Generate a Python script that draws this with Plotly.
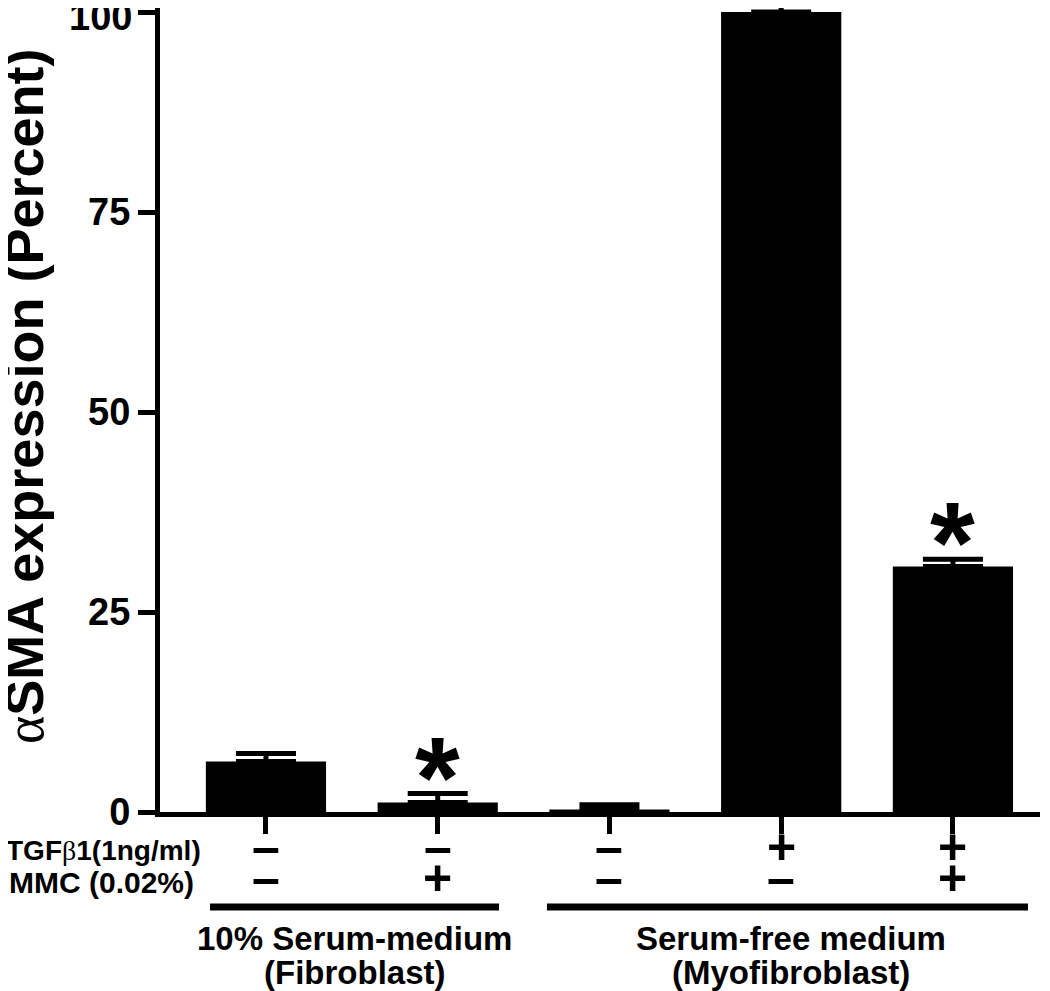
import plotly.graph_objects as go

categories = [0, 1, 2, 3, 4]
values = [6.3, 1.2, 0.3, 100.0, 30.7]
errors = [1.0, 1.1, 0.6, 0.8, 0.9]
tgf_signs = ["–", "–", "–", "+", "+"]
mmc_signs = ["–", "+", "–", "–", "+"]
significant = [False, True, False, False, True]
y_ticks = [0, 25, 50, 75, 100]
y_ticktext = ["0", "25", "50", "75", ""]
top_tick_label = "100"
group_line1 = ["10% Serum-medium", "Serum-free medium"]
group_line2 = ["(Fibroblast)", "(Myofibroblast)"]
group_spans = [(-0.326, 1.357), (1.636, 4.437)]
group_centers = [0.518, 3.057]
y_title = "<b><span style=\"font-family:'Liberation Serif';font-weight:normal\">α</span>SMA expression (Percent)</b>"
tgf_label = "<b>TGF<span style=\"font-family:'Liberation Serif';font-weight:normal\">β</span>1(1ng/ml)</b>"
mmc_label = "<b>MMC (0.02%)</b>"

FONT = "Liberation Sans, Arial, sans-serif"
PLOT_H = 804.0


def py(p):
    # page pixel -> paper y (plot bottom at page y 812)
    return (812 - p) / PLOT_H


fig = go.Figure()
fig.add_trace(go.Bar(
    x=categories, y=values, width=0.70,
    marker=dict(color="black", line=dict(width=0)),
    error_y=dict(type="data", array=errors, arrayminus=[0]*5, symmetric=False,
                 color="black", thickness=5, width=30),
    cliponaxis=False,
))

annotations = []
for c, t, m in zip(categories, tgf_signs, mmc_signs):
    annotations.append(dict(x=c, y=py(850), xref="x", yref="paper", text=f"<b>{t}</b>", showarrow=False,
                            yshift=-27, font=dict(family=FONT, size=50, color="black")))
    annotations.append(dict(x=c, y=py(881), xref="x", yref="paper", text=f"<b>{m}</b>", showarrow=False,
                            yshift=-27, font=dict(family=FONT, size=50, color="black")))
for c, v, e, s in zip(categories, values, errors, significant):
    if s:
        annotations.append(dict(x=c, y=v + e, xref="x", yref="y", text="<b>*</b>", showarrow=False,
                                yanchor="bottom", yshift=-49,
                                font=dict(family=FONT, size=115, color="black")))
annotations.append(dict(x=0, y=py(850), xref="paper", yref="paper", xshift=43, yshift=-18,
                        text=tgf_label, showarrow=False, xanchor="right",
                        font=dict(family=FONT, size=28, color="black")))
annotations.append(dict(x=0, y=py(881), xref="paper", yref="paper", xshift=36, yshift=-20,
                        text=mmc_label, showarrow=False, xanchor="right",
                        font=dict(family=FONT, size=30, color="black")))
for l1, l2, cx in zip(group_line1, group_line2, group_centers):
    annotations.append(dict(x=cx, y=py(941), xref="x", yref="paper", text=f"<b>{l1}</b>", showarrow=False,
                            yshift=-18, font=dict(family=FONT, size=33, color="black")))
    annotations.append(dict(x=cx, y=py(976), xref="x", yref="paper", text=f"<b>{l2}</b>", showarrow=False,
                            yshift=-17, font=dict(family=FONT, size=33, color="black")))
annotations.append(dict(x=0, y=100, xref="paper", yref="y", xshift=-26, yshift=-5, xanchor="right",
                        text=f"<b>{top_tick_label}</b>", showarrow=False,
                        font=dict(family=FONT, size=38, color="black")))
annotations.append(dict(x=0, y=py(396), xref="paper", yref="paper", xshift=-136, textangle=-90,
                        xanchor="center", yanchor="middle",
                        text=y_title, showarrow=False,
                        font=dict(family=FONT, size=54, color="black")))

shapes = []
for a, b in group_spans:
    shapes.append(dict(type="line", xref="x", yref="paper", x0=a, x1=b, y0=py(907), y1=py(907),
                       line=dict(color="black", width=7)))

fig.update_layout(
    width=1050, height=991,
    margin=dict(l=152, r=18, t=0, b=187, autoexpand=False),
    paper_bgcolor="white", plot_bgcolor="white",
    showlegend=False,
    annotations=annotations, shapes=shapes,
    xaxis=dict(range=[-0.617, 4.507], tickvals=categories, ticktext=[""]*5,
               showline=True, linecolor="black", linewidth=5,
               ticks="outside", ticklen=17, tickwidth=5, tickcolor="black",
               showgrid=False, zeroline=False, fixedrange=True),
    yaxis=dict(range=[0, 100.5], tickvals=y_ticks, ticktext=y_ticktext, ticklabeloverflow="allow",
               showline=True, linecolor="black", linewidth=5,
               ticks="outside", ticklen=17, tickwidth=5, tickcolor="black",
               showgrid=False, zeroline=False,
               tickfont=dict(family=FONT, size=38, color="black", weight="bold")),
)

fig.write_html("out.html")
